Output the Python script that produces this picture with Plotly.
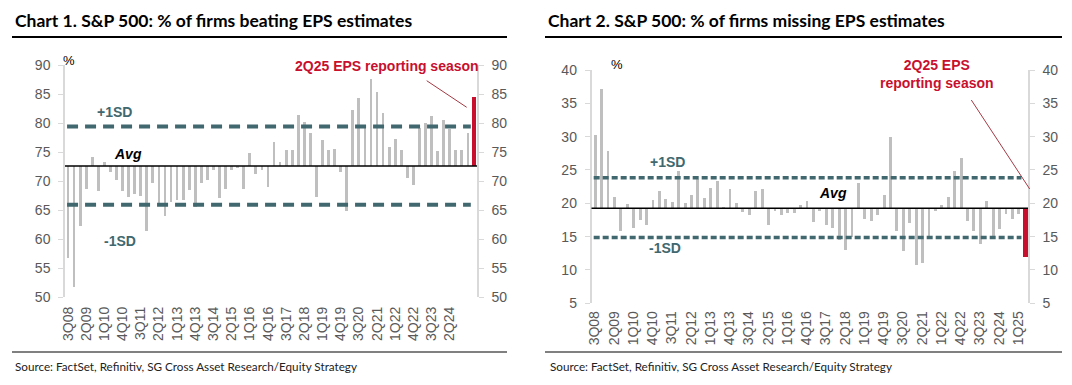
import plotly.graph_objects as go

# ---------------- data ----------------
quarters = ["3Q08","4Q08",
            "1Q09","2Q09","3Q09","4Q09","1Q10","2Q10","3Q10","4Q10",
            "1Q11","2Q11","3Q11","4Q11","1Q12","2Q12","3Q12","4Q12",
            "1Q13","2Q13","3Q13","4Q13","1Q14","2Q14","3Q14","4Q14",
            "1Q15","2Q15","3Q15","4Q15","1Q16","2Q16","3Q16","4Q16",
            "1Q17","2Q17","3Q17","4Q17","1Q18","2Q18","3Q18","4Q18",
            "1Q19","2Q19","3Q19","4Q19","1Q20","2Q20","3Q20","4Q20",
            "1Q21","2Q21","3Q21","4Q21","1Q22","2Q22","3Q22","4Q22",
            "1Q23","2Q23","3Q23","4Q23","1Q24","2Q24","3Q24","4Q24",
            "1Q25","2Q25"]

pct_beating = [56.8, 51.8, 62.2, 68.7, 74.1, 68.3, 73.2, 71.6, 70.2, 68.3,
               67.2, 67.7, 67.4, 61.4, 69.6, 66.0, 64.0, 66.4, 66.7, 66.8,
               68.5, 65.6, 69.6, 70.1, 71.9, 67.0, 68.6, 71.9, 72.2, 68.7,
               74.9, 71.2, 71.9, 69.0, 76.8, 73.3, 75.3, 75.4, 81.4, 80.1,
               78.3, 67.3, 77.0, 75.3, 75.6, 71.5, 64.9, 82.2, 84.3, 79.4,
               87.6, 85.4, 81.7, 75.9, 77.3, 75.3, 70.5, 69.3, 79.1, 80.0,
               81.2, 75.2, 80.5, 79.0, 75.4, 75.3, 78.3, 84.5]
beat_avg, beat_plus_sd, beat_minus_sd = 72.6, 79.4, 65.9

pct_missing = [30.2, 37.1, 27.8, 21.0, 15.9, 19.9, 16.3, 17.5, 16.8, 20.5,
               21.9, 20.6, 20.2, 24.9, 20.0, 21.2, 23.7, 20.8, 22.3, 23.3,
               19.5, 22.1, 20.0, 18.7, 18.3, 21.9, 22.2, 16.8, 18.8, 18.2,
               18.5, 18.5, 19.8, 20.4, 17.2, 18.9, 16.7, 16.3, 14.5, 13.0,
               15.0, 23.0, 17.6, 17.3, 18.3, 21.3, 30.0, 15.8, 12.8, 17.0,
               10.8, 11.1, 15.0, 18.9, 19.8, 21.0, 24.9, 26.8, 17.3, 15.9,
               13.9, 20.3, 15.1, 16.1, 18.4, 17.6, 18.4, 12.0]
miss_avg, miss_plus_sd, miss_minus_sd = 19.26, 23.85, 14.86

ticks_chart1 = quarters[0:64:3]   # 3Q08 ... 2Q24
ticks_chart2 = quarters[0:67:3]   # 3Q08 ... 1Q25

title1 = "Chart 1. S&P 500: % of firms beating EPS estimates"
title2 = "Chart 2. S&P 500: % of firms missing EPS estimates"
source = "Source: FactSet, Refinitiv, SG Cross Asset Research/Equity Strategy"

# ---------------- styling ----------------
PAGE_OFF = 8                       # default body margin of the html page
W, H = 1072 - PAGE_OFF, 385 - PAGE_OFF
GREY = "#BFBFBF"
RED = "#C8102E"
TEAL = "#41686F"
TICK = "#595959"
AXLINE = "#D9D9D9"
ARIAL = "Liberation Sans, Arial, sans-serif"
TITLEFONT = "Lato, sans-serif"

def px(x):
    return (x - PAGE_OFF) / W

def py(y):
    return 1 - (y - PAGE_OFF) / H

fig = go.Figure()

def add_bars(values, avg, xa, ya):
    last = len(values) - 1
    fig.add_trace(go.Bar(
        x=quarters[:last], y=[v - avg for v in values[:last]], base=avg,
        marker=dict(color=GREY, line=dict(width=0)), width=0.45,
        xaxis=xa, yaxis=ya, showlegend=False, hoverinfo="skip"))
    fig.add_trace(go.Bar(
        x=[quarters[last]], y=[values[last] - avg], base=avg,
        marker=dict(color=RED, line=dict(width=0)), width=0.7,
        xaxis=xa, yaxis=ya, showlegend=False, hoverinfo="skip"))

add_bars(pct_beating, beat_avg, "x", "y")
add_bars(pct_missing, miss_avg, "x2", "y2")
# invisible helpers so the right-hand axes render
fig.add_trace(go.Scatter(x=[quarters[0]], y=[beat_avg], xaxis="x", yaxis="y3",
                         mode="markers", marker=dict(opacity=0), showlegend=False, hoverinfo="skip"))
fig.add_trace(go.Scatter(x=[quarters[0]], y=[miss_avg], xaxis="x2", yaxis="y4",
                         mode="markers", marker=dict(opacity=0), showlegend=False, hoverinfo="skip"))

xcommon = dict(type="category", categoryorder="array", categoryarray=quarters,
               range=[-0.5, len(quarters) - 0.5], showgrid=False, zeroline=False,
               showline=False, ticks="", tickangle=-90, automargin=False,
               tickfont=dict(family=ARIAL, size=14, color=TICK), fixedrange=True)
ycommon = dict(showgrid=False, zeroline=False, showline=True, linecolor=AXLINE, linewidth=1.5,
               ticks="outside", ticklen=5, tickcolor=AXLINE, tickwidth=1, automargin=False,
               tickfont=dict(family=ARIAL, size=14, color=TICK), dtick=5, fixedrange=True,
               ticklabelstandoff=5)

fig.update_layout(
    width=W, height=H, margin=dict(l=0, r=0, t=0, b=0, autoexpand=False),
    paper_bgcolor="white", plot_bgcolor="white", barmode="overlay", bargap=0,
    xaxis=dict(xcommon, domain=[px(65), px(477)], anchor="y",
               tickvals=ticks_chart1, ticktext=ticks_chart1, ticklabelstandoff=6),
    yaxis=dict(ycommon, domain=[py(297), py(65)], range=[50, 90], anchor="x", side="left"),
    yaxis3=dict(ycommon, range=[50, 90], anchor="x", overlaying="y", side="right"),
    xaxis2=dict(xcommon, domain=[px(591.5), px(1028)], anchor="y2",
                tickvals=ticks_chart2, ticktext=ticks_chart2, ticklabelstandoff=4),
    yaxis2=dict(ycommon, domain=[py(303.3), py(70)], range=[5, 40], anchor="x2", side="left"),
    yaxis4=dict(ycommon, range=[5, 40], anchor="x2", overlaying="y2", side="right"),
)

shapes = []
# reference lines chart 1
shapes.append(dict(type="line", xref="x domain", yref="y", x0=0, x1=1, y0=beat_avg, y1=beat_avg,
                   line=dict(color="black", width=1.5)))
for v in (beat_plus_sd, beat_minus_sd):
    shapes.append(dict(type="line", xref="x domain", yref="y", x0=0.005, x1=0.985, y0=v, y1=v,
                       line=dict(color=TEAL, width=4, dash="11px,7px")))
# reference lines chart 2
shapes.append(dict(type="line", xref="x2 domain", yref="y2", x0=0, x1=1, y0=miss_avg, y1=miss_avg,
                   line=dict(color="black", width=1.5)))
for v in (miss_plus_sd, miss_minus_sd):
    shapes.append(dict(type="line", xref="x2 domain", yref="y2", x0=0.005, x1=0.985, y0=v, y1=v,
                       line=dict(color=TEAL, width=3.5, dash="6px,3px")))
# pointer lines
shapes.append(dict(type="line", xref="paper", yref="paper", x0=px(426.7), y0=py(80.7),
                   x1=px(466.7), y1=py(107.3), line=dict(color="#A33A45", width=1)))
shapes.append(dict(type="line", xref="paper", yref="paper", x0=px(971.3), y0=py(100),
                   x1=px(1029.7), y1=py(189), line=dict(color="#A33A45", width=1)))
# title underlines and footer rules
shapes.append(dict(type="line", xref="paper", yref="paper", x0=px(12), x1=px(507), y0=py(37), y1=py(37),
                   line=dict(color="black", width=2)))
shapes.append(dict(type="line", xref="paper", yref="paper", x0=px(545), x1=px(1062), y0=py(37), y1=py(37),
                   line=dict(color="black", width=2)))
shapes.append(dict(type="line", xref="paper", yref="paper", x0=px(12), x1=px(507), y0=py(352), y1=py(352),
                   line=dict(color="#808080", width=2)))
shapes.append(dict(type="line", xref="paper", yref="paper", x0=px(545), x1=px(1062), y0=py(352), y1=py(352),
                   line=dict(color="#808080", width=2)))
fig.update_layout(shapes=shapes)

def ann(text, x, y, size=14, color="black", family=ARIAL, xanchor="center", align="center"):
    return dict(text=text, x=px(x), y=py(y), xref="paper", yref="paper", showarrow=False,
                xanchor=xanchor, yanchor="middle", align=align,
                font=dict(family=family, size=size, color=color))

annotations = [
    ann("<b>" + title1 + "</b>", 13, 21, size=17.5, family=TITLEFONT, xanchor="left"),
    ann("<b>" + title2 + "</b>", 546, 21, size=17.5, family=TITLEFONT, xanchor="left"),
    ann(source, 13, 366, size=11.7, color="#222222", family=TITLEFONT, xanchor="left"),
    ann(source, 548, 366, size=11.7, color="#222222", family=TITLEFONT, xanchor="left"),
    ann("%", 69, 60, size=13),
    ann("%", 617, 65, size=13),
    ann("<b>+1SD</b>", 114, 112, color=TEAL),
    ann("<b><i>Avg</i></b>", 128, 154),
    ann("<b>-1SD</b>", 120, 241, color=TEAL),
    ann("<b>2Q25 EPS reporting season</b>", 481, 66, color=RED, xanchor="right"),
    ann("<b>+1SD</b>", 667, 162, color=TEAL),
    ann("<b><i>Avg</i></b>", 833, 193),
    ann("<b>-1SD</b>", 665, 248, color=TEAL),
    ann("<b>2Q25 EPS<br>reporting season</b>", 937, 74, color=RED),
]
fig.update_layout(annotations=annotations)

fig.write_html("out.html")
